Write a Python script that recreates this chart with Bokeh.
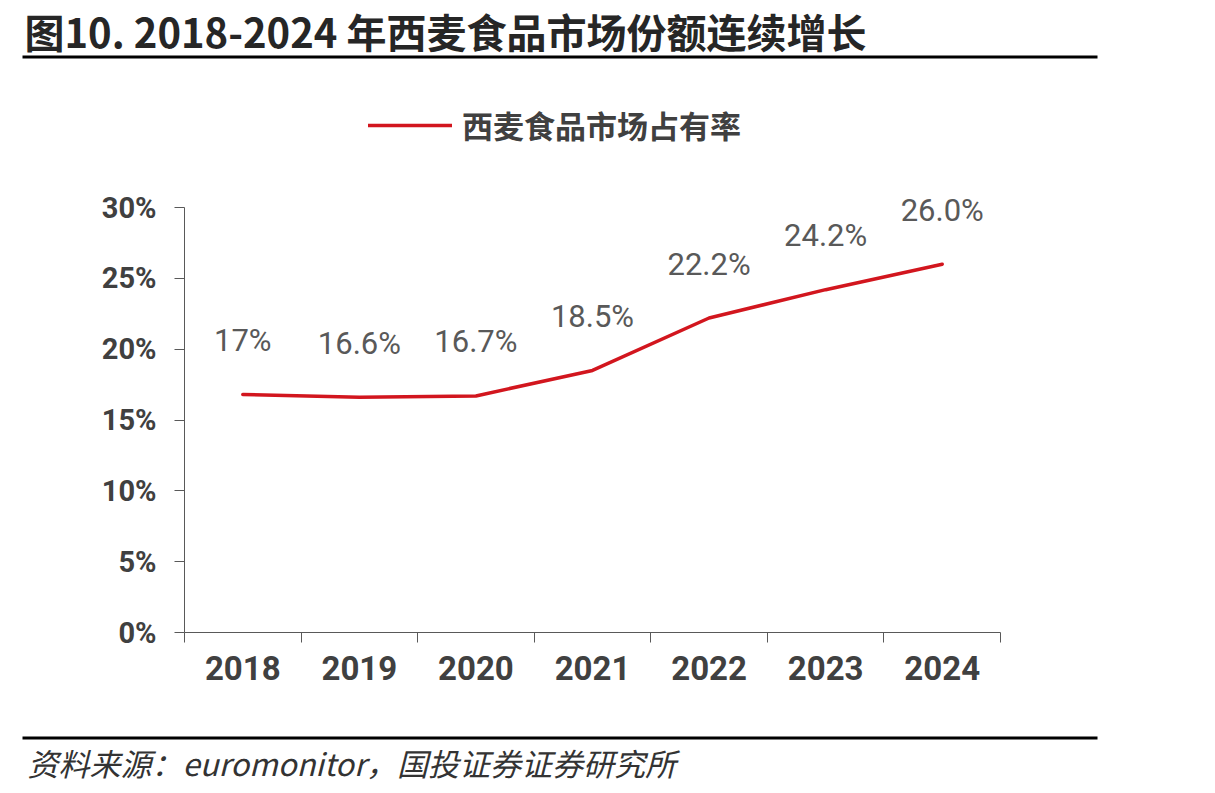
from bokeh.plotting import figure
from bokeh.models import (Range1d, FixedTicker, Label, LabelSet, ColumnDataSource,
                          BoxAnnotation, Legend, LegendItem, PrintfTickFormatter)
from bokeh.core.properties import value
from bokeh.embed import file_html
from bokeh.resources import INLINE

years = ["2018", "2019", "2020", "2021", "2022", "2023", "2024"]
share = [16.8, 16.6, 16.7, 18.5, 22.2, 24.2, 26.0]
share_labels = ["17%", "16.6%", "16.7%", "18.5%", "22.2%", "24.2%", "26.0%"]
y_ticks = [0, 5, 10, 15, 20, 25, 30]
series_name = "西麦食品市场占有率"
title_text = "图10. 2018-2024 年西麦食品市场份额连续增长"
source_text = "资料来源：euromonitor，国投证券证券研究所"

W, H = 1215, 793
# pixel box of the axes area
AL, AR, AT, AB = 184, 1000, 207, 632
n = len(years)
ymax = 30.0
kx = (AR - AL) / n
ky = (AB - AT) / ymax

xs = [i + 0.5 for i in range(n)]
bounds = list(range(n + 1))

p = figure(width=W, height=H, output_backend="svg", toolbar_location=None,
           x_range=Range1d(-AL / kx, n + (W - AR) / kx),
           y_range=Range1d(-(H - AB) / ky, ymax + AT / ky),
           min_border=0)
p.outline_line_color = None
p.grid.visible = False
p.background_fill_color = "white"
p.border_fill_color = "white"

CJK = "Noto Sans CJK SC"
AX = "#595959"
TXT = "#404040"
RED = "#D2161E"

# axes
xa = p.xaxis[0]
xa.fixed_location = 0
xa.bounds = (0, n)
xa.ticker = FixedTicker(ticks=xs, minor_ticks=bounds)
xa.major_label_overrides = {x: y for x, y in zip(xs, years)}
xa.major_tick_in = 0
xa.major_tick_out = 0
xa.minor_tick_in = 0
xa.minor_tick_out = 10
xa.minor_tick_line_color = AX
xa.axis_line_color = AX
xa.major_label_text_font = "Roboto"
xa.major_label_text_font_style = "bold"
xa.major_label_text_font_size = "33px"
xa.major_label_text_color = TXT
xa.major_label_standoff = 13

ya = p.yaxis[0]
ya.fixed_location = 0
ya.bounds = (0, ymax)
ya.ticker = FixedTicker(ticks=y_ticks)
ya.formatter = PrintfTickFormatter(format="%d%%")
ya.major_tick_in = 0
ya.major_tick_out = 10
ya.minor_tick_line_color = None
ya.major_tick_line_color = AX
ya.axis_line_color = AX
ya.major_label_text_font = "Roboto"
ya.major_label_text_font_style = "bold"
ya.major_label_text_font_size = "29px"
ya.major_label_text_color = TXT
ya.major_label_standoff = 18

src = ColumnDataSource(dict(x=xs, y=share, label=share_labels))
ln = p.line("x", "y", source=src, line_color=RED, line_width=3.5,
            line_cap="round", line_join="round")

labels = LabelSet(x="x", y="y", text="label", source=src, y_offset=54,
                  text_align="center", text_baseline="middle",
                  text_font=value("Roboto"), text_font_size=value("31px"),
                  text_color="#595959")
p.add_layout(labels)

legend = Legend(items=[LegendItem(label=series_name, renderers=[ln])],
                location=(368, H - 147), orientation="horizontal",
                glyph_width=84, glyph_height=34, label_standoff=10,
                padding=0, margin=0, border_line_color=None,
                background_fill_alpha=0,
                label_text_font=CJK, label_text_font_style="bold",
                label_text_font_size="31px", label_text_color=TXT)
p.add_layout(legend, "center")

# title, rules, source (screen units: from frame bottom-left)
p.add_layout(Label(x=24, y=H - 30, x_units="screen", y_units="screen", text=title_text,
                   text_font=CJK, text_font_style="bold", text_font_size="40px",
                   text_color="#262626", text_baseline="middle", text_align="left"))
p.add_layout(BoxAnnotation(left=22, right=1097, top=H - 55, bottom=H - 58,
                           left_units="screen", right_units="screen",
                           top_units="screen", bottom_units="screen",
                           fill_color="black", fill_alpha=1, line_color=None))
p.add_layout(BoxAnnotation(left=22, right=1097, top=H - 736, bottom=H - 739,
                           left_units="screen", right_units="screen",
                           top_units="screen", bottom_units="screen",
                           fill_color="black", fill_alpha=1, line_color=None))
p.add_layout(Label(x=27, y=H - 762, x_units="screen", y_units="screen", text=source_text,
                   text_font=CJK, text_font_style="italic", text_font_size="31px",
                   text_color="#333333", text_baseline="middle", text_align="left"))

open("out.html", "w").write(file_html(p, INLINE))
